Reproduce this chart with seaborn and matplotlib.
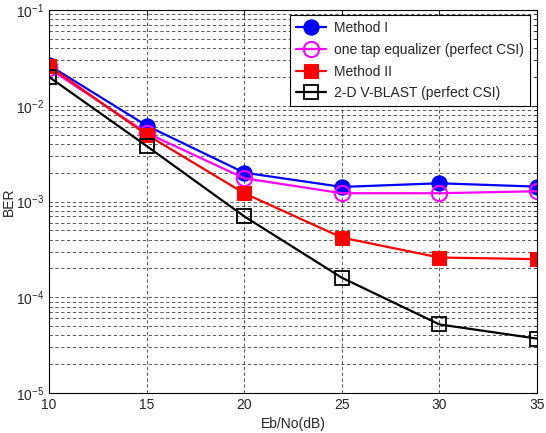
import numpy as np
import pandas as pd
import matplotlib
matplotlib.use("Agg")
import matplotlib.pyplot as plt
import seaborn as sns
from matplotlib.ticker import LogLocator

snr = [10, 15, 20, 25, 30, 35]
method1 = [0.0265, 0.0062, 0.0020, 0.00142, 0.00155, 0.00143]
one_tap = [0.0245, 0.0052, 0.00175, 0.00122, 0.00122, 0.00128]
method2 = [0.026, 0.0050, 0.00122, 0.00042, 0.00026, 0.00025]
vblast = [0.020, 0.0038, 0.00070, 0.00016, 5.2e-5, 3.7e-5]

labels = ["Method I", "one tap equalizer (perfect CSI)", "Method II", "2-D V-BLAST (perfect CSI)"]
series = [method1, one_tap, method2, vblast]

df = pd.concat([pd.DataFrame({"snr": snr, "ber": s, "name": n}) for s, n in zip(series, labels)])

sns.set_style("white")
plt.rcParams['font.family'] = ['Liberation Sans', 'DejaVu Sans']

fig = plt.figure(figsize=(5.46, 4.33), dpi=100)
ax = fig.add_axes([49/546, 1-393/433, 488/546, 383/433])

styles = {
    "Method I": dict(color="blue", marker="o", markersize=11, markerfacecolor="blue", markeredgecolor="blue"),
    "one tap equalizer (perfect CSI)": dict(color="#ff00ff", marker="o", markersize=11, markerfacecolor="none", markeredgecolor="#ff00ff", markeredgewidth=1.5),
    "Method II": dict(color="red", marker="s", markersize=10, markerfacecolor="red", markeredgecolor="red"),
    "2-D V-BLAST (perfect CSI)": dict(color="black", marker="s", markersize=10, markerfacecolor="none", markeredgecolor="black", markeredgewidth=1.3),
}
for n in labels:
    sub = df[df["name"] == n]
    sns.lineplot(data=sub, x="snr", y="ber", ax=ax, label=n, linewidth=1.6, **styles[n])

ax.set_yscale("log")
ax.set_xlim(10, 35)
ax.set_ylim(1e-5, 1e-1)
ax.set_xticks([10, 15, 20, 25, 30, 35])
ax.yaxis.set_major_locator(LogLocator(base=10, numticks=10))
ax.yaxis.set_minor_locator(LogLocator(base=10, subs=np.arange(2, 10), numticks=20))
ax.grid(True, which="major", axis="both", color="black", linestyle=(0, (4, 3)), linewidth=0.6, alpha=0.75)
ax.grid(True, which="minor", axis="y", color="black", linestyle=(0, (4, 3)), linewidth=0.6, alpha=0.75)
ax.tick_params(axis="both", which="both", direction="in", labelsize=10, top=True, right=True)
ax.tick_params(which="major", length=4)
ax.tick_params(which="minor", length=2)
ax.set_xlabel("Eb/No(dB)", fontsize=10, labelpad=4)
ax.set_ylabel("BER", fontsize=10)
ax.yaxis.set_label_coords(-0.068, 0.5)
for sp in ax.spines.values():
    sp.set_color("black")
    sp.set_linewidth(0.8)

leg = ax.legend(loc="upper right", fontsize=10, frameon=True, fancybox=False, edgecolor="black",
                framealpha=1, bbox_to_anchor=(1 - 7/488, 1 - 5/383), borderaxespad=0,
                handlelength=2.1, labelspacing=0.55, borderpad=0.45, handletextpad=0.6)
leg.get_frame().set_linewidth(0.8)

fig.savefig("out.png", dpi=100)
